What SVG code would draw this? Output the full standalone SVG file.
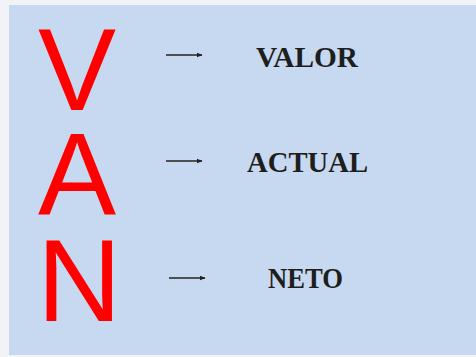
<svg xmlns="http://www.w3.org/2000/svg" width="476" height="357" viewBox="0 0 476 357">
<defs>
<style>
.big{font-family:"Liberation Sans",Arial,sans-serif;font-size:117px;fill:#ff0000}
.word{font-family:"Liberation Serif","Times New Roman",serif;font-weight:bold;font-size:30px;fill:#1e1e1e}
.conn line{stroke:#222;stroke-width:1.5}
</style>
<marker id="ah" viewBox="0 0 10 10" refX="9" refY="5" markerWidth="4" markerHeight="4" orient="auto">
<path d="M0,1 L10,5 L0,9 z" fill="#222"/>
</marker>
</defs>
<rect x="0" y="0" width="476" height="357" fill="#f1f3f6"/>
<rect x="9" y="5" width="467" height="350" fill="#c6d9f0"/>
<g id="node-V"><text class="big" x="38" y="110">V</text></g>
<g id="node-A"><text class="big" x="38" y="215">A</text></g>
<g id="node-N"><text class="big" x="37" y="321">N</text></g>
<g id="node-valor"><text class="word" x="256" y="67" textLength="102" lengthAdjust="spacingAndGlyphs">VALOR</text></g>
<g id="node-actual"><text class="word" x="247" y="172" textLength="121" lengthAdjust="spacingAndGlyphs">ACTUAL</text></g>
<g id="node-neto"><text class="word" x="268" y="288" textLength="75" lengthAdjust="spacingAndGlyphs">NETO</text></g>
<g id="connectors" class="conn">
<line x1="166" y1="55" x2="202" y2="55" marker-end="url(#ah)"/>
<line x1="166" y1="161" x2="202" y2="161" marker-end="url(#ah)"/>
<line x1="169" y1="278" x2="205" y2="278" marker-end="url(#ah)"/>
</g>
</svg>
